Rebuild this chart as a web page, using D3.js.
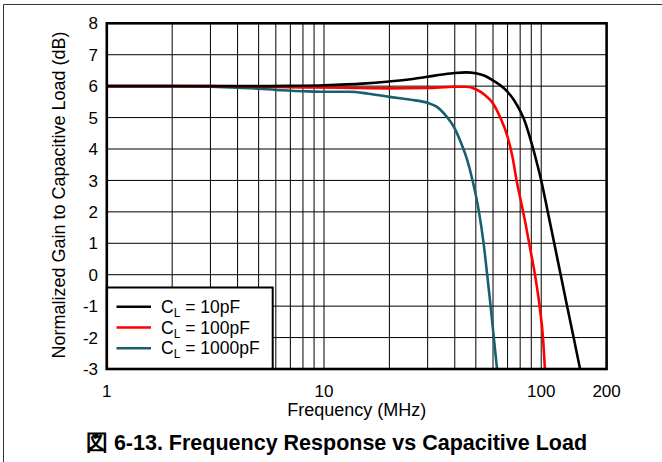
<!DOCTYPE html>
<html lang="en">
<head>
<meta charset="UTF-8"/>
<title>Frequency Response vs Capacitive Load</title>
<script src="https://d3js.org/d3.v7.min.js"></script>
<style>
    body { margin: 0; background: #fff; }
    text { font-family: "Liberation Sans", Arial, sans-serif; fill: #000; }
</style>
</head>
<body>
<div id="chart"></div>
<script>
    // Data (frequency in MHz, gain in dB)
    const freq10 = [1, 3, 5, 7, 10, 15, 20, 25, 30, 35, 40, 45, 50, 55, 60, 65, 70, 75, 80, 82.7, 85, 88, 91.9, 96, 100, 107.2, 114.8, 122.9, 131.6, 141, 151];
    const gain10 = [6.0, 6.0, 6.0, 6.01, 6.03, 6.08, 6.15, 6.22, 6.3, 6.37, 6.42, 6.44, 6.41, 6.33, 6.18, 6.02, 5.82, 5.55, 5.21, 5.0, 4.78, 4.45, 4.0, 3.5, 3.0, 2.0, 1.0, 0.0, -1.0, -2.0, -3.0];

    const freq100 = [1, 3, 5, 8, 12, 20, 30, 40, 45, 50, 55, 60, 65, 70, 74, 77, 80, 84, 88, 93.6, 98.3, 101.9, 104];
    const gain100 = [6.0, 6.0, 5.98, 5.96, 5.95, 5.93, 5.94, 5.98, 5.98, 5.9, 5.72, 5.45, 4.98, 4.39, 3.7, 3.0, 2.45, 1.75, 1.0, 0.0, -1.0, -2.0, -3.0];

    const freq1000 = [1, 2, 3, 4, 5, 6, 8, 10, 13, 16, 20, 25, 30, 33, 36, 40, 43, 45.4, 48.3, 51.7, 54.3, 56.4, 58.5, 60.5, 62.6];
    const gain1000 = [6.0, 6.0, 5.98, 5.95, 5.92, 5.88, 5.84, 5.82, 5.82, 5.76, 5.66, 5.57, 5.47, 5.35, 5.1, 4.65, 4.15, 3.7, 3.0, 2.0, 1.0, 0.0, -1.0, -2.0, -3.0];

    const seriesNames = ["10pF", "100pF", "1000pF"];
    const seriesColors = ["#000000", "#ff0000", "#17606e"];

    const xTickLabels = [1, 10, 100, 200];
    const yTickLabels = [-3, -2, -1, 0, 1, 2, 3, 4, 5, 6, 7, 8];

    const w = 662, h = 462;
    const plotLeft = 106.8, plotRight = 606.6, plotTop = 23.3, plotBottom = 369;

    const svg = d3.select("#chart").append("svg")
        .attr("width", w)
        .attr("height", h);

    // outer figure border (top and left only)
    svg.append("path")
        .attr("d", "M3.5,462 V4.5 H662")
        .attr("fill", "none")
        .attr("stroke", "#333")
        .attr("stroke-width", 1);

    const x = d3.scaleLog().domain([1, 200]).range([plotLeft, plotRight]);
    const y = d3.scaleLinear().domain([-3, 8]).range([plotBottom, plotTop]);

    // grid lines
    svg.append("g")
        .selectAll("line")
        .data(x.ticks().filter(d => d > 1 && d < 200))
        .join("line")
        .attr("x1", d => x(d)).attr("x2", d => x(d))
        .attr("y1", plotTop).attr("y2", plotBottom)
        .attr("stroke", "#000").attr("stroke-width", 1);

    svg.append("g")
        .selectAll("line")
        .data(yTickLabels.filter(d => d > -3 && d < 8))
        .join("line")
        .attr("x1", plotLeft).attr("x2", plotRight)
        .attr("y1", d => y(d)).attr("y2", d => y(d))
        .attr("stroke", "#000").attr("stroke-width", 1);

    // curves
    const line = d3.line()
        .x(d => x(d[0]))
        .y(d => y(d[1]))
        .curve(d3.curveMonotoneX);

    const series = [
        d3.zip(freq10, gain10),
        d3.zip(freq100, gain100),
        d3.zip(freq1000, gain1000)
    ];

    svg.append("defs").append("clipPath").attr("id", "plot")
        .append("rect")
        .attr("x", plotLeft).attr("y", plotTop)
        .attr("width", plotRight - plotLeft).attr("height", plotBottom - plotTop);

    svg.append("g")
        .attr("clip-path", "url(#plot)")
        .selectAll("path")
        .data(series.slice().reverse())
        .join("path")
        .attr("d", line)
        .attr("fill", "none")
        .attr("stroke", (d, i) => seriesColors[2 - i])
        .attr("stroke-width", 2.6);

    // legend box
    const legend = svg.append("g");
    legend.append("rect")
        .attr("x", plotLeft).attr("y", 287.5)
        .attr("width", 272.7 - plotLeft).attr("height", plotBottom - 287.5)
        .attr("fill", "#fff")
        .attr("stroke", "#000")
        .attr("stroke-width", 2);

    const items = legend.selectAll("g.item")
        .data(seriesNames)
        .join("g")
        .attr("class", "item")
        .attr("transform", (d, i) => `translate(0, ${306.7 + i * 20.8})`);

    items.append("line")
        .attr("x1", 116.5).attr("x2", 151)
        .attr("stroke", (d, i) => seriesColors[i])
        .attr("stroke-width", 2.6);

    const lt = items.append("text")
        .attr("x", 161)
        .attr("y", 6)
        .attr("font-size", "17.5px");
    lt.append("tspan").text("C");
    lt.append("tspan").attr("font-size", "12px").attr("dy", 4).text("L");
    lt.append("tspan").attr("dy", -4).text(d => " = " + d);

    // plot frame
    svg.append("rect")
        .attr("x", plotLeft).attr("y", plotTop)
        .attr("width", plotRight - plotLeft).attr("height", plotBottom - plotTop)
        .attr("fill", "none")
        .attr("stroke", "#000")
        .attr("stroke-width", 2.6);

    // tick labels
    svg.append("g")
        .selectAll("text")
        .data(yTickLabels)
        .join("text")
        .attr("x", 98)
        .attr("y", d => y(d))
        .attr("dy", "0.36em")
        .attr("text-anchor", "end")
        .attr("font-size", "17px")
        .text(d => d);

    svg.append("g")
        .selectAll("text")
        .data(xTickLabels)
        .join("text")
        .attr("x", d => x(d))
        .attr("y", 397)
        .attr("text-anchor", "middle")
        .attr("font-size", "17px")
        .text(d => d);

    // axis titles
    svg.append("text")
        .attr("x", (plotLeft + plotRight) / 2)
        .attr("y", 416)
        .attr("text-anchor", "middle")
        .attr("font-size", "18px")
        .text("Frequency (MHz)");

    svg.append("text")
        .attr("transform", "rotate(-90)")
        .attr("x", -195)
        .attr("y", 65)
        .attr("text-anchor", "middle")
        .attr("font-size", "18px")
        .text("Normalized Gain to Capacitive Load (dB)");

    // figure caption
    svg.append("text")
        .attr("x", 336.5)
        .attr("y", 450)
        .attr("text-anchor", "middle")
        .attr("font-size", "21.5px")
        .attr("font-weight", "bold")
        .text("図 6-13. Frequency Response vs Capacitive Load");
</script>
</body>
</html>
